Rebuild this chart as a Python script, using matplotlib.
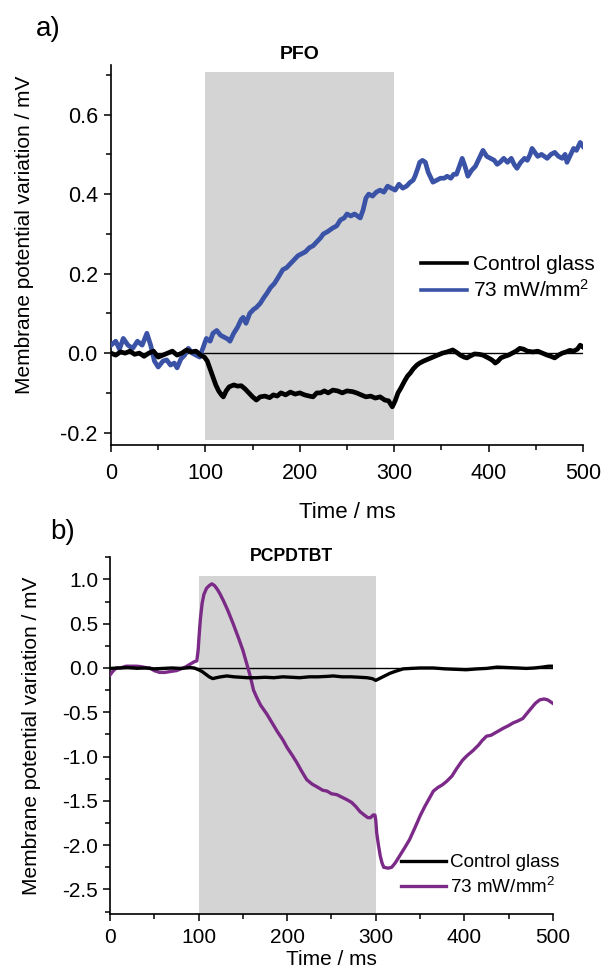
import matplotlib
matplotlib.use("Agg")
import matplotlib.pyplot as plt
from matplotlib.ticker import MultipleLocator
from matplotlib.lines import Line2D

plt.rcParams["font.family"] = ["Liberation Sans", "DejaVu Sans"]
plt.rcParams["mathtext.default"] = "regular"
plt.rcParams["axes.unicode_minus"] = False

# ---- panel a) PFO ----
t_pfo_blue = [0, 5, 9, 13, 18, 23, 28, 33, 38, 42, 46, 50, 55, 59, 63, 67, 70, 74, 78, 82,
              86, 90, 94, 97, 101, 105, 108, 112, 116, 120, 124, 126, 130, 134, 138, 140, 143,
              147, 151, 154, 158, 162, 165, 169, 173, 177, 182, 186, 190, 194, 198, 202, 206,
              210, 214, 218, 222, 225, 229, 232, 235, 239, 243, 247, 250, 254, 258, 261, 264,
              267, 270, 273, 277, 281, 285, 289, 293, 297, 301, 305, 309, 313, 317, 320, 322,
              325, 327, 330, 333, 336, 339, 341, 345, 349, 353, 356, 360, 363, 366, 369, 372,
              375, 378, 382, 386, 390, 394, 398, 402, 406, 409, 412, 416, 420, 424, 427, 430,
              434, 438, 441, 444, 446, 449, 452, 456, 459, 462, 466, 470, 474, 478, 481, 483,
              486, 490, 493, 497, 500]
v_pfo_blue = [0.02, 0.03, 0.01, 0.037, 0.02, 0.012, 0.03, 0.02, 0.05, 0.02, -0.02, -0.035,
              -0.02, -0.017, -0.03, -0.025, -0.037, -0.015, -0.005, 0.012, 0.0, -0.005, -0.01,
              0.01, 0.037, 0.03, 0.05, 0.057, 0.045, 0.04, 0.035, 0.03, 0.05, 0.065, 0.085, 0.09,
              0.075, 0.1, 0.11, 0.115, 0.125, 0.14, 0.15, 0.165, 0.175, 0.19, 0.21, 0.215, 0.225,
              0.235, 0.245, 0.25, 0.255, 0.265, 0.27, 0.28, 0.29, 0.30, 0.305, 0.31, 0.315, 0.32,
              0.335, 0.34, 0.35, 0.345, 0.35, 0.345, 0.34, 0.36, 0.39, 0.40, 0.395, 0.405, 0.41,
              0.405, 0.42, 0.415, 0.41, 0.425, 0.415, 0.42, 0.43, 0.435, 0.445, 0.465, 0.48,
              0.485, 0.48, 0.455, 0.44, 0.43, 0.435, 0.44, 0.44, 0.445, 0.44, 0.45, 0.45, 0.47,
              0.49, 0.47, 0.445, 0.46, 0.47, 0.49, 0.51, 0.495, 0.49, 0.485, 0.475, 0.48, 0.49,
              0.48, 0.49, 0.475, 0.465, 0.48, 0.49, 0.485, 0.5, 0.515, 0.505, 0.495, 0.5, 0.495,
              0.49, 0.5, 0.505, 0.495, 0.49, 0.5, 0.48, 0.495, 0.515, 0.51, 0.53, 0.52]

t_pfo_ctrl = [0, 5, 10, 15, 20, 25, 30, 35, 40, 45, 50, 55, 60, 65, 70, 75, 80, 85, 90, 95,
              99, 102, 105, 108, 111, 114, 117, 119, 122, 125, 130, 134, 138, 142, 146, 150,
              154, 158, 163, 168, 172, 176, 180, 185, 190, 195, 200, 205, 210, 214, 218, 222,
              226, 230, 235, 240, 245, 250, 256, 260, 265, 270, 275, 280, 285, 290, 294, 298,
              301, 304, 307, 311, 314, 317, 320, 324, 327, 331, 336, 341, 346, 351, 356, 362,
              366, 370, 374, 377, 380, 385, 390, 394, 398, 402, 405, 407, 410, 413, 417, 421,
              425, 429, 433, 437, 441, 447, 452, 457, 462, 466, 470, 474, 478, 482, 486, 490,
              494, 497, 500]
v_pfo_ctrl = [0.0, -0.005, 0.003, 0.0, 0.005, -0.003, 0.0, -0.008, 0.0, 0.005, -0.01, -0.005,
              0.0, 0.005, -0.005, 0.0, 0.008, 0.003, 0.005, -0.005, -0.01, -0.02, -0.04, -0.06,
              -0.08, -0.095, -0.105, -0.11, -0.095, -0.085, -0.08, -0.083, -0.082, -0.09, -0.1,
              -0.11, -0.118, -0.11, -0.108, -0.112, -0.105, -0.108, -0.1, -0.105, -0.098, -0.103,
              -0.1, -0.105, -0.108, -0.11, -0.1, -0.1, -0.095, -0.1, -0.093, -0.095, -0.1, -0.095,
              -0.097, -0.1, -0.105, -0.11, -0.108, -0.113, -0.11, -0.118, -0.12, -0.135, -0.12,
              -0.1, -0.088, -0.07, -0.058, -0.05, -0.04, -0.03, -0.025, -0.02, -0.015, -0.01,
              -0.005, 0.0, 0.003, 0.008, 0.002, -0.005, -0.01, -0.012, -0.008, -0.002, -0.003,
              -0.005, -0.01, -0.015, -0.02, -0.025, -0.02, -0.012, -0.008, -0.005, 0.0, 0.005,
              0.012, 0.01, 0.005, 0.003, 0.005, 0.0, -0.005, -0.008, -0.012, -0.005, 0.0, 0.003,
              0.007, 0.005, 0.01, 0.02, 0.015]

# ---- panel b) PCPDTBT ----
t_pcp_purple = [0, 3, 7, 12, 18, 25, 30, 35, 40, 45, 50, 56, 62, 68, 75, 80, 85, 90, 95, 98,
                99.5, 100.5, 102, 104, 106, 109, 112, 115, 118, 121, 124, 128, 133, 139, 145,
                150, 154, 158, 162, 166, 170, 177, 183, 189, 195, 200, 206, 211, 216, 222, 228,
                235, 240, 245, 250, 256, 262, 268, 273, 278, 282, 287, 291, 294, 297, 299, 300,
                301, 303, 305, 307, 309, 314, 318, 322, 327, 332, 338, 343, 347, 350, 355, 360,
                365, 370, 375, 380, 386, 391, 398, 403, 410, 416, 420, 425, 430, 437, 444, 450,
                455, 460, 466, 470, 475, 480, 485, 490, 494, 497, 500]
v_pcp_purple = [-0.08, -0.04, 0.0, 0.0, 0.02, 0.02, 0.02, 0.015, 0.005, 0.0, -0.03, -0.05,
                -0.05, -0.04, -0.03, -0.01, 0.01, 0.04, 0.07, 0.08, 0.2, 0.35, 0.55, 0.73, 0.83,
                0.9, 0.93, 0.95, 0.93, 0.89, 0.84, 0.76, 0.65, 0.5, 0.34, 0.2, 0.06, -0.08, -0.25,
                -0.34, -0.42, -0.52, -0.62, -0.72, -0.81, -0.9, -0.99, -1.07, -1.16, -1.26, -1.31,
                -1.35, -1.38, -1.39, -1.42, -1.43, -1.46, -1.49, -1.52, -1.57, -1.62, -1.66, -1.69,
                -1.69, -1.66, -1.66, -1.72, -1.86, -2.0, -2.12, -2.2, -2.25, -2.26, -2.25, -2.2,
                -2.12, -2.04, -1.94, -1.83, -1.74, -1.67, -1.57, -1.48, -1.39, -1.35, -1.32, -1.28,
                -1.22, -1.14, -1.04, -0.99, -0.93, -0.87, -0.82, -0.77, -0.76, -0.72, -0.68, -0.65,
                -0.62, -0.6, -0.57, -0.52, -0.46, -0.4, -0.36, -0.35, -0.36, -0.38, -0.4]

t_pcp_ctrl = [0, 10, 20, 30, 40, 50, 60, 70, 80, 90, 95, 100, 104, 108, 112, 116, 120, 125,
              132, 140, 148, 155, 165, 175, 185, 195, 205, 214, 225, 235, 245, 252, 262, 272,
              282, 290, 296, 300, 304, 310, 316, 323, 331, 340, 350, 365, 378, 390, 402, 415,
              425, 437, 448, 460, 470, 479, 488, 495, 500]
v_pcp_ctrl = [-0.005, 0.0, 0.005, -0.003, 0.0, -0.01, -0.005, 0.0, -0.005, 0.005, 0.0, -0.02,
              -0.04, -0.07, -0.1, -0.12, -0.11, -0.1, -0.09, -0.1, -0.105, -0.11, -0.11, -0.105,
              -0.11, -0.1, -0.105, -0.11, -0.1, -0.1, -0.095, -0.09, -0.1, -0.1, -0.105, -0.11,
              -0.12, -0.14, -0.12, -0.09, -0.06, -0.035, -0.01, -0.005, 0.0, 0.0, -0.01, -0.015,
              -0.02, -0.01, -0.005, 0.01, 0.005, 0.0, -0.005, 0.0, 0.01, 0.02, 0.02]

light_on = [100, 300]
labels = ["Control glass", "73 mW/mm$^2$"]
BLUE = "#3a53a6"
PURPLE = "#7c2a88"
SHADE = "#d4d4d4"

fig = plt.figure(figsize=(6.01, 9.69), dpi=100)
ax1 = fig.add_axes([0.1847, 0.5408, 0.7854, 0.3922])
ax2 = fig.add_axes([0.1830, 0.0568, 0.7371, 0.3684])


def style_axes(ax, tick_fs, xpad, ypad):
    ax.spines[["top", "right"]].set_visible(False)
    for s in ["left", "bottom"]:
        ax.spines[s].set_linewidth(1.2)
    ax.tick_params(which="major", direction="out", length=5, width=1.1, labelsize=tick_fs)
    ax.tick_params(which="minor", direction="out", length=3.5, width=1.1)
    ax.tick_params(axis="x", which="major", pad=xpad)
    ax.tick_params(axis="y", which="major", pad=ypad)
    ax.set_xlim(0, 500)
    ax.xaxis.set_major_locator(MultipleLocator(100))
    ax.xaxis.set_minor_locator(MultipleLocator(50))


# panel a
ax1.fill_between(light_on, -0.219, 0.707, color=SHADE, lw=0, zorder=0)
ax1.axhline(0, color="black", lw=1, zorder=1)
ax1.plot(t_pfo_blue, v_pfo_blue, color=BLUE, lw=3.4, solid_joinstyle="round", zorder=3)
ax1.plot(t_pfo_ctrl, v_pfo_ctrl, color="black", lw=3.4, solid_joinstyle="round", zorder=4)
style_axes(ax1, 15.5, 8, 4.5)
ax1.set_ylim(-0.231, 0.725)
ax1.yaxis.set_major_locator(MultipleLocator(0.2))
ax1.yaxis.set_minor_locator(MultipleLocator(0.1))
ax1.yaxis.set_major_formatter(plt.FuncFormatter(lambda v, p: f"{v:.1f}"))
ax1.set_xlabel("Time / ms", fontsize=16)
ax1.set_ylabel("Membrane potential variation / mV", fontsize=15)
ax1.xaxis.set_label_coords(0.5, -0.15)
ax1.yaxis.set_label_coords(-0.163, 0.553)
ax1.text(200, 1.028, "PFO", transform=ax1.get_xaxis_transform(), ha="center", va="center",
         fontsize=14, fontweight="bold")
h1 = [Line2D([0], [0], color="black", lw=2.6), Line2D([0], [0], color=BLUE, lw=2.6)]
ax1.legend(h1, labels, loc="upper left", bbox_to_anchor=(0.657, 0.50), frameon=False,
           fontsize=15, handlelength=2.2, handletextpad=0.3, labelspacing=0.25,
           borderpad=0, borderaxespad=0)

# panel b
ax2.fill_between(light_on, -2.79, 1.04, color=SHADE, lw=0, zorder=0)
ax2.axhline(0, color="black", lw=1, zorder=1)
ax2.plot(t_pcp_purple, v_pcp_purple, color=PURPLE, lw=2.4, solid_joinstyle="round", zorder=3)
ax2.plot(t_pcp_ctrl, v_pcp_ctrl, color="black", lw=2.4, solid_joinstyle="round", zorder=4)
style_axes(ax2, 15, 5, 3.5)
ax2.set_ylim(-2.777, 1.253)
ax2.yaxis.set_major_locator(MultipleLocator(0.5))
ax2.yaxis.set_minor_locator(MultipleLocator(0.25))
ax2.yaxis.set_major_formatter(plt.FuncFormatter(lambda v, p: f"{v:.1f}"))
ax2.set_xlabel("Time / ms", fontsize=15)
ax2.set_ylabel("Membrane potential variation / mV", fontsize=15)
ax2.xaxis.set_label_coords(0.5, -0.1)
ax2.yaxis.set_label_coords(-0.156, 0.5)
ax2.text(205, 1.0, "PCPDTBT", transform=ax2.get_xaxis_transform(), ha="center", va="center",
         fontsize=12.7, fontweight="bold")
h2 = [Line2D([0], [0], color="black", lw=2.4), Line2D([0], [0], color=PURPLE, lw=2.4)]
ax2.legend(h2, labels, loc="upper left", bbox_to_anchor=(0.657, 0.168), frameon=False,
           fontsize=13.6, handlelength=2.4, handletextpad=0.2, labelspacing=0.3,
           borderpad=0, borderaxespad=0)

fig.text(48 / 601, 1 - 29 / 969, "a)", fontsize=20, ha="center", va="center")
fig.text(63 / 601, 1 - 532 / 969, "b)", fontsize=20, ha="center", va="center")

fig.savefig("out.png", dpi=100, facecolor="white")
